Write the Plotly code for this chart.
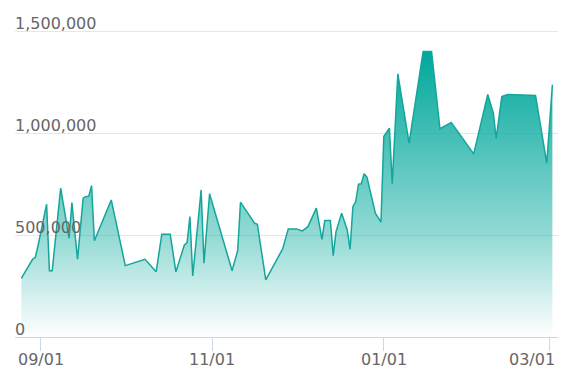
import plotly.graph_objects as go

dates = [
    "2022-08-25", "2022-08-29", "2022-08-30", "2022-08-31", "2022-09-03", "2022-09-04",
    "2022-09-05", "2022-09-08", "2022-09-11", "2022-09-12", "2022-09-14", "2022-09-16",
    "2022-09-17", "2022-09-18", "2022-09-19", "2022-09-20", "2022-09-26", "2022-10-01",
    "2022-10-08", "2022-10-12", "2022-10-14", "2022-10-17", "2022-10-19", "2022-10-22",
    "2022-10-23", "2022-10-24", "2022-10-25", "2022-10-28", "2022-10-29", "2022-10-31",
    "2022-11-08", "2022-11-10", "2022-11-11", "2022-11-16", "2022-11-17", "2022-11-20",
    "2022-11-26", "2022-11-28", "2022-12-01", "2022-12-03", "2022-12-05", "2022-12-08",
    "2022-12-10", "2022-12-11", "2022-12-13", "2022-12-14", "2022-12-15", "2022-12-17",
    "2022-12-19", "2022-12-20", "2022-12-21", "2022-12-22", "2022-12-23", "2022-12-24",
    "2022-12-25", "2022-12-26", "2022-12-29", "2022-12-31", "2023-01-01", "2023-01-03",
    "2023-01-04", "2023-01-06", "2023-01-10", "2023-01-15", "2023-01-18", "2023-01-21",
    "2023-01-25", "2023-02-02", "2023-02-07", "2023-02-09", "2023-02-10", "2023-02-12",
    "2023-02-14", "2023-02-17", "2023-02-19", "2023-02-24", "2023-02-28", "2023-03-02",
]

values = [
    288000, 381000, 391000, 451000, 651000, 325000,
    325000, 730000, 484000, 659000, 381000, 681000,
    689000, 690000, 742000, 472000, 672000, 350000,
    381000, 320000, 504000, 504000, 319000, 450000,
    463000, 590000, 299000, 721000, 362000, 702000,
    325000, 423000, 661000, 558000, 553000, 280000,
    432000, 530000, 530000, 520000, 541000, 632000,
    479000, 571000, 571000, 399000, 517000, 607000,
    525000, 430000, 639000, 664000, 749000, 751000,
    800000, 784000, 607000, 563000, 983000, 1024000,
    751000, 1290000, 950000, 1400000, 1400000, 1021000,
    1052000, 898000, 1189000, 1098000, 973000, 1179000,
    1189000, 1188000, 1184000, 1184000, 852000, 1237000,
]

x_ticks = ["2022-09-01", "2022-11-01", "2023-01-01", "2023-03-01"]
x_tick_labels = ["09/01", "11/01", "01/01", "03/01"]
y_ticks = [0, 500000, 1000000, 1500000]
y_tick_labels = ["0", "500,000", "1,000,000", "1,500,000"]

LABEL_FONT = dict(family="DejaVu Sans", size=16, color="#666666")

fig = go.Figure()
fig.add_trace(go.Scatter(
    x=dates, y=values, mode="lines",
    line=dict(color="#14a69a", width=1.5),
    fill="tozeroy",
    fillgradient=dict(
        type="vertical",
        colorscale=[[0, "rgba(0,168,156,0.0)"],
                    [0.35, "rgba(0,168,156,0.42)"],
                    [1, "rgba(0,168,156,1.0)"]],
        start=0, stop=1400000,
    ),
    hoverinfo="x+y",
))

for v, t in zip(y_ticks, y_tick_labels):
    fig.add_annotation(
        x=0, xref="paper", y=v, yref="y",
        text=t, showarrow=False,
        xanchor="left", yanchor="bottom",
        xshift=-2, yshift=-4,
        font=LABEL_FONT,
    )

for i, (d, t) in enumerate(zip(x_ticks, x_tick_labels)):
    last = i == len(x_ticks) - 1
    fig.add_annotation(
        x=1 if last else d, xref="paper" if last else "x",
        y=0, yref="paper",
        text=t, showarrow=False,
        xanchor="right" if last else "center", yanchor="top",
        xshift=-1 if last else 0, yshift=-11,
        font=LABEL_FONT,
    )

fig.update_layout(
    width=570, height=386,
    margin=dict(l=15, r=12, t=29, b=49),
    paper_bgcolor="white", plot_bgcolor="white",
    showlegend=False,
    font=LABEL_FONT,
)
fig.update_xaxes(
    type="date",
    range=["2022-08-22 18:00", "2023-03-04 00:00"],
    tickmode="array", tickvals=x_ticks,
    showticklabels=False,
    showgrid=False, zeroline=False,
    showline=True, linecolor="#ccd6eb", linewidth=1,
    ticks="outside", ticklen=13, tickcolor="#ccd6eb", tickwidth=1,
)
fig.update_yaxes(
    range=[0, 1510000],
    tickmode="array", tickvals=y_ticks,
    showticklabels=False,
    showgrid=True, gridcolor="#e6e6e6", gridwidth=1,
    zeroline=False, showline=False, ticks="",
)

fig.write_html("out.html")
